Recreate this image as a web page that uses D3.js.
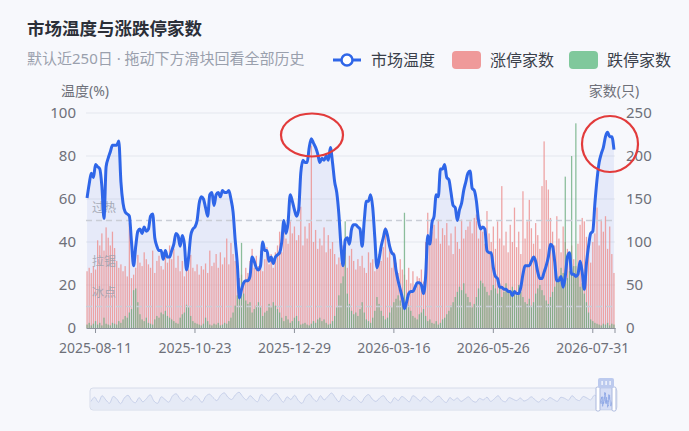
<!DOCTYPE html>
<html><head><meta charset="utf-8">
<script src="https://cdn.jsdelivr.net/npm/d3@7/dist/d3.min.js"></script>
<style>
html,body{margin:0;padding:0;background:#f7f8fc;}
svg{display:block;font-family:"Noto Sans","Noto Sans CJK SC",sans-serif;}
</style></head><body>
<svg id="c" width="689" height="431"></svg>
<script>
// ---------- data ----------
const tempValues = [
60.5,67,72,70,76,75,74,66,51,75, 79,82,85,85,85,87,68,58,54,53,
52,40,29,38,45,46,44,47,45,46, 52,53,42,38,36,36,32,36,33,33,
36,39,44,43,38,43,39,27,33,43, 46,47,50,58,61,60,56,52,62,63,
57,62,63,61,64,63,63,64,60,54, 41,30,14,18,21,22,22,24,33,31,
28,27,29,40,36,36,31,33,30,33, 34,35,40,50,44,49,62,59,55,52,
55,72,78,77,77,84,88,86,84,81, 77,79,78,80,78,84,77,68,63,53,
38,29,41,42,39,46,48,48,47,46, 38,50,59,59,62,56,42,28,32,38,
42,46,43,38,35,34,27,22,18,14, 9,12,16,17,17,19,21,21,20,16,
24,43,39,49,52,62,61,74,74,76, 70,69,63,57,56,50,55,58,64,68,
72,73,65,64,59,50,46,47,46,36, 35,35,28,24,23,19,19,18,18,17,
17,15,17,16,16,19,25,29,29,29, 31,33,31,26,23,23,26,29,33,39,
38,31,22,22,24,19,24,33,35,25, 25,24,25,31,26,18,30,38,44,45,
58,69,77,81,84,89,91,89,89,83];

const limitUp = [
66,70,64,72,68,102,96,110,90,117, 105,96,112,93,78,70,74,66,72,60,
122,58,62,70,85,76,72,88,80,74, 70,90,64,78,84,72,68,88,76,96,
80,92,70,84,66,78,60,72,68,85, 70,66,74,62,72,68,75,64,90,72,
76,86,70,88,74,82,104,74,99,86, 78,66,58,62,54,70,64,78,92,70,
84,72,90,66,80,94,74,86,70,88, 96,112,88,120,104,98,124,110,118,102,
108,141,96,118,104,122,212,100,114,92, 104,96,117,88,108,92,100,86,74,82,
76,96,88,70,84,92,78,68,80,72, 84,70,64,88,76,80,66,72,86,78,
94,117,82,98,70,88,76,64,80,68, 62,56,70,52,66,48,60,58,68,54,
100,134,96,112,120,104,126,98,116,108, 122,96,110,86,118,100,92,126,104,114,
118,124,110,128,132,104,120,112,98,136, 110,100,118,92,124,104,165,96,112,88,
120,100,140,94,112,86,159,104,124,149, 116,98,122,108,92,165,217,172,161,128,
112,96,130,104,88,118,100,92,84,96, 80,72,98,120,128,124,106,90,76,100,
110,140,96,126,112,130,92,118,86,64];

const limitDown = [
4,6,3,5,8,4,6,3,12,5, 4,3,6,5,4,8,6,10,14,12,
18,22,44,46,30,16,10,8,12,6, 5,4,10,14,12,18,16,20,14,12,
10,8,6,5,12,16,18,27,24,14, 8,6,5,4,3,5,12,8,4,3,
5,4,6,3,4,6,5,8,12,18, 26,38,48,99,40,32,28,30,18,22,
26,30,24,14,18,20,28,24,30,26, 22,18,12,8,14,10,6,8,12,14,
8,4,5,6,4,3,5,8,6,10, 12,8,10,6,4,5,8,14,24,38,
52,60,124,40,28,20,16,18,14,22, 30,18,10,8,6,12,20,36,28,20,
14,10,12,18,24,30,34,38,32,28, 134,36,26,20,14,12,10,16,18,22,
14,8,10,6,5,8,4,6,10,12, 16,20,26,30,36,42,48,44,52,40,
36,30,24,28,36,46,55,52,48,42, 38,44,50,46,40,48,36,42,52,44,
40,48,44,38,50,42,36,30,28,34, 26,30,40,46,50,44,38,32,28,36,
42,48,56,60,70,64,176,58,66,200, 72,238,60,48,52,40,30,18,10,8,
6,5,4,3,5,4,6,3,5,4];

const categories = tempValues.map((_, i) => i);          // trading-day slots in the 250-day window
const xTickLabels = ["2025-08-11","2025-10-23","2025-12-29","2026-03-16","2026-05-26","2026-07-31"];
const xTickIndex = [4, 51, 98, 145, 192, 239];
const leftTicks = [0, 20, 40, 60, 80, 100];
const rightTicks = [0, 50, 100, 150, 200, 250];
const zoneLines = [{v:50, label:"过热"}, {v:10, label:"冰点"}];
const zoneLabels = [{v:56, label:"过热"}, {v:31, label:"拉锯"}, {v:16.5, label:"冰点"}];
const historyTemp = [40,62,35,70,48,30,66,52,28,58,72,45,33,60,38,55,75,42,30,64,50,36,68,80,55,40,62,46,70,58,35,66,78,60,44,72,85,62,50,74,88,65,48,70,52,38,76,60,42,68,82,58,36,64,50,72,45,30,62,78,55,40,70,48,66,84,60,38,72,56,44,68,50,34,62,76,52,40,58,70,46,32,60,44,66,54,38,70,58,42,64,50,36,56,68,48,34,60,46,58,40,52,64,44,36,56,48,62,40,54,70,46,38,60,52,44,58,42,50,64,48,36,54,44,60,50,40,62,56,46,70,52,44,66,58,48,72,60];

// ---------- layout ----------
const svg = d3.select("#c");
const L = 86, R = 615, T = 113, B = 328;
const blue = "#2f66e8", red = "#ec9494", green = "#6fae82";

svg.append("rect").attr("width",689).attr("height",431).attr("fill","#f7f8fc");

const x = d3.scaleBand().domain(categories).range([L, R]).paddingInner(0).paddingOuter(0);
const yL = d3.scaleLinear().domain([0, 100]).range([B, T]);
const yR = d3.scaleLinear().domain([0, 250]).range([B, T]);
const cx = i => x(i) + x.bandwidth()/2;

// title
svg.append("text").attr("x",27).attr("y",28).attr("dominant-baseline","central")
  .attr("font-size",17.5).attr("font-weight","bold").attr("fill","#2b2f38").text("市场温度与涨跌停家数");
svg.append("text").attr("x",27).attr("y",58).attr("dominant-baseline","central")
  .attr("font-size",15).attr("fill","#9aa0ad").text("默认近250日 · 拖动下方滑块回看全部历史");

// legend
const lg = svg.append("g");
lg.append("line").attr("x1",333).attr("x2",361).attr("y1",60).attr("y2",60).attr("stroke",blue).attr("stroke-width",3);
lg.append("circle").attr("cx",347).attr("cy",60).attr("r",5.5).attr("fill","#fff").attr("stroke",blue).attr("stroke-width",2.5);
lg.append("text").attr("x",371).attr("y",60).attr("dominant-baseline","central").attr("font-size",16).attr("fill","#3a3f4a").text("市场温度");
lg.append("rect").attr("x",452).attr("y",51).attr("width",29).attr("height",18).attr("rx",4).attr("fill","#ef9a9a");
lg.append("text").attr("x",490).attr("y",60).attr("dominant-baseline","central").attr("font-size",16).attr("fill","#3a3f4a").text("涨停家数");
lg.append("rect").attr("x",569).attr("y",51).attr("width",29).attr("height",18).attr("rx",4).attr("fill","#80c89c");
lg.append("text").attr("x",607).attr("y",60).attr("dominant-baseline","central").attr("font-size",16).attr("fill","#3a3f4a").text("跌停家数");

// axis names
svg.append("text").attr("x",85).attr("y",90).attr("text-anchor","middle").attr("dominant-baseline","central")
  .attr("font-size",14).attr("fill","#6e7079").text("温度(%)");
svg.append("text").attr("x",614).attr("y",90).attr("text-anchor","middle").attr("dominant-baseline","central")
  .attr("font-size",14).attr("fill","#6e7079").text("家数(只)");

// grid
svg.append("g").selectAll("line").data(leftTicks.filter(d=>d>0)).join("line")
  .attr("x1",L).attr("x2",R).attr("y1",d=>yL(d)).attr("y2",d=>yL(d))
  .attr("stroke","#e4e7ee").attr("stroke-width",1);

// left axis
const axL = svg.append("g").attr("transform",`translate(${L},0)`)
  .call(d3.axisLeft(yL).tickValues(leftTicks).tickSize(0).tickPadding(10));
axL.select(".domain").remove();
axL.selectAll("text").attr("font-size",15).attr("fill","#6e7079").attr("font-family",'"Noto Sans",sans-serif');

// right axis
const axR = svg.append("g").attr("transform",`translate(${R},0)`)
  .call(d3.axisRight(yR).tickValues(rightTicks).tickSize(0).tickPadding(11));
axR.select(".domain").remove();
axR.selectAll("text").attr("font-size",15).attr("fill","#6e7079").attr("font-family",'"Noto Sans",sans-serif');

// area under temperature line
const area = d3.area().x((d,i)=>cx(i)).y0(B).y1(d=>yL(d)).curve(d3.curveMonotoneX);
svg.append("path").datum(tempValues).attr("d",area).attr("fill","rgba(70,105,225,0.09)");

// bars
const bw = x.bandwidth()*0.6;
svg.append("g").selectAll("rect").data(limitUp).join("rect")
  .attr("x",(d,i)=>cx(i)-bw/2).attr("width",bw)
  .attr("y",d=>yR(d)).attr("height",d=>B-yR(d)).attr("fill",red).attr("opacity",0.85);
svg.append("g").selectAll("rect").data(limitDown).join("rect")
  .attr("x",(d,i)=>cx(i)-bw/2).attr("width",bw)
  .attr("y",d=>yR(d)).attr("height",d=>B-yR(d)).attr("fill",green).attr("opacity",0.8);

// bottom axis
const axB = svg.append("g").attr("transform",`translate(0,${B})`)
  .call(d3.axisBottom(x).tickValues(xTickIndex).tickFormat((d)=>xTickLabels[xTickIndex.indexOf(d)]).tickSize(5).tickPadding(10).tickSizeOuter(0));
axB.select(".domain").attr("stroke","#8d929c");
axB.selectAll(".tick line").attr("stroke","#8d929c");
axB.selectAll("text").attr("font-size",14).attr("fill","#6e7079").attr("font-family",'"Noto Sans",sans-serif');
axB.append("line").attr("x1",R).attr("x2",R).attr("y1",0).attr("y2",5).attr("stroke","#8d929c");

// zone dashed lines and labels
svg.append("g").selectAll("line").data(zoneLines).join("line")
  .attr("x1",L).attr("x2",R).attr("y1",d=>yL(d.v)).attr("y2",d=>yL(d.v))
  .attr("stroke","#c9cdd6").attr("stroke-width",1.5).attr("stroke-dasharray","6,4");
svg.append("g").selectAll("text").data(zoneLabels).join("text")
  .attr("x",92).attr("y",d=>yL(d.v)).attr("dominant-baseline","central")
  .attr("font-size",12).attr("fill","#9ca1ad").attr("opacity",0.85).text(d=>d.label);

// temperature line
const line = d3.line().x((d,i)=>cx(i)).y(d=>yL(d)).curve(d3.curveMonotoneX);
svg.append("path").datum(tempValues).attr("d",line).attr("fill","none")
  .attr("stroke",blue).attr("stroke-width",3).attr("stroke-linejoin","round");

// annotation ellipses
svg.append("ellipse").attr("cx",312).attr("cy",135).attr("rx",31).attr("ry",21.5)
  .attr("fill","none").attr("stroke","#e23b3b").attr("stroke-width",2.2);
svg.append("ellipse").attr("cx",610).attr("cy",144).attr("rx",28).attr("ry",28)
  .attr("fill","none").attr("stroke","#e23b3b").attr("stroke-width",2.2);

// data zoom slider
const sL = 90, sR = 617, sT = 388, sB = 410, wL = 598, wR = 614;
svg.append("rect").attr("x",sL).attr("y",sT).attr("width",sR-sL).attr("height",sB-sT).attr("rx",3)
  .attr("fill","#f1f3fa").attr("stroke","#d6dcea");
const hx = d3.scaleLinear().domain([0, historyTemp.length-1]).range([sL+1, wL]);
const sy = d3.scaleLinear().domain([0, 100]).range([sB-1, sT+2]);
const sArea = d3.area().x((d,i)=>hx(i)).y0(sB-1).y1(d=>sy(d)).curve(d3.curveMonotoneX);
const sLine = d3.line().x((d,i)=>hx(i)).y(d=>sy(d)).curve(d3.curveMonotoneX);
svg.append("path").datum(historyTemp).attr("d",sArea).attr("fill","rgba(150,170,225,0.12)");
svg.append("path").datum(historyTemp).attr("d",sLine).attr("fill","none").attr("stroke","#c7d0ea").attr("stroke-width",1);
const wx = d3.scaleLinear().domain([0, tempValues.length-1]).range([wL, wR]);
svg.append("rect").attr("x",wL).attr("y",sT).attr("width",wR-wL).attr("height",sB-sT).attr("fill","rgba(120,150,230,0.22)");
svg.append("path").datum(tempValues).attr("d",d3.line().x((d,i)=>wx(i)).y(d=>sy(d))).attr("fill","none").attr("stroke","#8fa8e6").attr("stroke-width",0.8);
[wL, wR].forEach(h=>{
  svg.append("rect").attr("x",h-2).attr("y",sT-1).attr("width",4).attr("height",sB-sT+2).attr("rx",1.5)
    .attr("fill","#fff").attr("stroke","#a9b7dd").attr("stroke-width",1);
});
svg.append("rect").attr("x",wL).attr("y",378).attr("width",wR-wL).attr("height",10).attr("rx",2).attr("fill","#bccaee");
[602,606,610].forEach(p=>svg.append("rect").attr("x",p-0.5).attr("y",381).attr("width",1.2).attr("height",4).attr("fill","#fff"));
</script>
</body></html>
